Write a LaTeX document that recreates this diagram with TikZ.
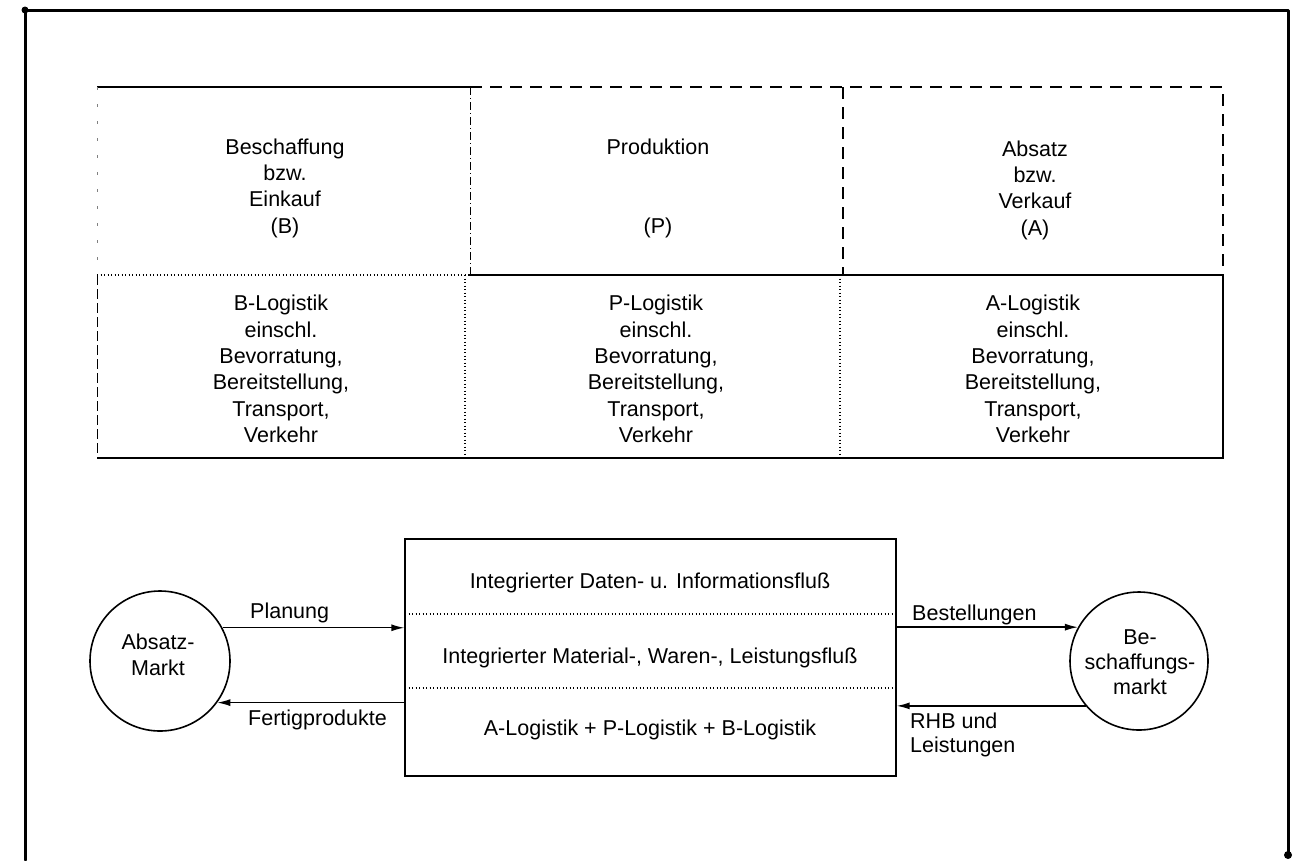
\documentclass[tikz,border=0pt]{standalone}
\usepackage{fontspec}
\setmainfont{Liberation Sans}
\usetikzlibrary{arrows.meta}
\begin{document}
\begin{tikzpicture}[x=1pt,y=-1pt,
  txt/.style={align=center,font=\fontsize{21.5}{26.3}\selectfont,inner sep=0pt},
  lbl/.style={align=left,font=\fontsize{21.5}{24.5}\selectfont,inner sep=0pt,anchor=west},
  frame/.style={line width=3pt,line join=round,line cap=round},
  rule/.style={line width=1.1pt},
  dotline/.style={line width=1.1pt,dash pattern=on 1.1pt off 2.4pt},
  dashline/.style={line width=1.1pt,dash pattern=on 12pt off 8pt},
  dashdotline/.style={line width=0.9pt,dash pattern=on 8pt off 3pt on 1pt off 3pt},
  faintline/.style={line width=0.9pt,gray,dash pattern=on 3pt off 14pt},
  market/.style={circle,draw,line width=1.6pt,minimum size=140pt,inner sep=0pt},
  flowbox/.style={draw,line width=1.3pt,minimum width=491pt,minimum height=237pt,inner sep=0pt},
  flow/.style={line width=1.4pt,-{Latex[length=13pt,width=7pt]}}]
\useasboundingbox (0,0) rectangle (1300,860);

% outer frame (open at the bottom)
\draw[frame] (25,860) -- (25,10) -- (1288,10) -- (1288,855);
\fill (25,10) circle (3.5pt);
\fill (1288,855) circle (4pt);

% upper table: top row
\draw[rule] (97,87) -- (470,87);
\draw[dashline] (470,87) -- (1223,87) -- (1223,275);
\draw[dashline] (843,87) -- (843,275);
\draw[dashdotline] (470,87) -- (470,275);
\draw[faintline] (97,87) -- (97,275);
% middle rule
\draw[dotline] (97,275) -- (468,275);
\draw[rule] (468,275) -- (1223,275);
% lower row
\draw[rule] (1223,275) -- (1223,458) -- (97,458);
\draw[dashline,line width=0.8pt,dash pattern=on 10pt off 4pt] (97,275) -- (97,458);
\draw[dotline] (465,275) -- (465,458);
\draw[dotline] (840,275) -- (840,458);

% upper cell texts
\node[txt] (beschaffung) at (285,188) {Beschaffung\\bzw.\\Einkauf\\(B)};
\node[txt] (produktion) at (658,188) {Produktion\\\mbox{}\\\mbox{}\\(P)};
\node[txt] (absatz) at (1035,190) {Absatz\\bzw.\\Verkauf\\(A)};

% lower cell texts
\node[txt] (blog) at (281,369) {B-Logistik\\einschl.\\Bevorratung,\\Bereitstellung,\\Transport,\\Verkehr};
\node[txt] (plog) at (656,369) {P-Logistik\\einschl.\\Bevorratung,\\Bereitstellung,\\Transport,\\Verkehr};
\node[txt] (alog) at (1033,369) {A-Logistik\\einschl.\\Bevorratung,\\Bereitstellung,\\Transport,\\Verkehr};

% lower diagram
\node[flowbox] (box) at (650.5,657.5) {};
\draw[dotline] (405,614) -- (896,614);
\draw[dotline] (405,688) -- (896,688);
\node[txt] (daten) at (650,583) {Integrierter Daten- u. Informationsfluß};
\node[txt] (material) at (650,658) {Integrierter Material-, Waren-, Leistungsfluß};
\node[txt] (logsum) at (650,730) {A-Logistik + P-Logistik + B-Logistik};

\node[market] (am) at (160,661) {};
\node[txt] (amtext) at (158,655) {Absatz-\\Markt};
\node[market,minimum size=138pt] (bm) at (1139,661) {};
\node[txt,font=\fontsize{21.5}{25}\selectfont] (bmtext) at (1140,662) {Be-\\schaffungs-\\markt};

\draw[flow] (am.28) -- (am.28 -| box.west);
\draw[flow] (am.-36 -| box.west) -- (am.-36);
\draw[flow] (bm.151.5 -| box.east) -- (bm.151.5);
\draw[flow] (bm.-140) -- (bm.-140 -| box.east);

\node[lbl] (planung) at (250,613) {Planung};
\node[lbl] (fertig) at (248,720) {Fertigprodukte};
\node[lbl] (bestell) at (912,615) {Bestellungen};
\node[lbl] (rhb) at (910,735) {RHB und\\Leistungen};
\end{tikzpicture}
\end{document}
